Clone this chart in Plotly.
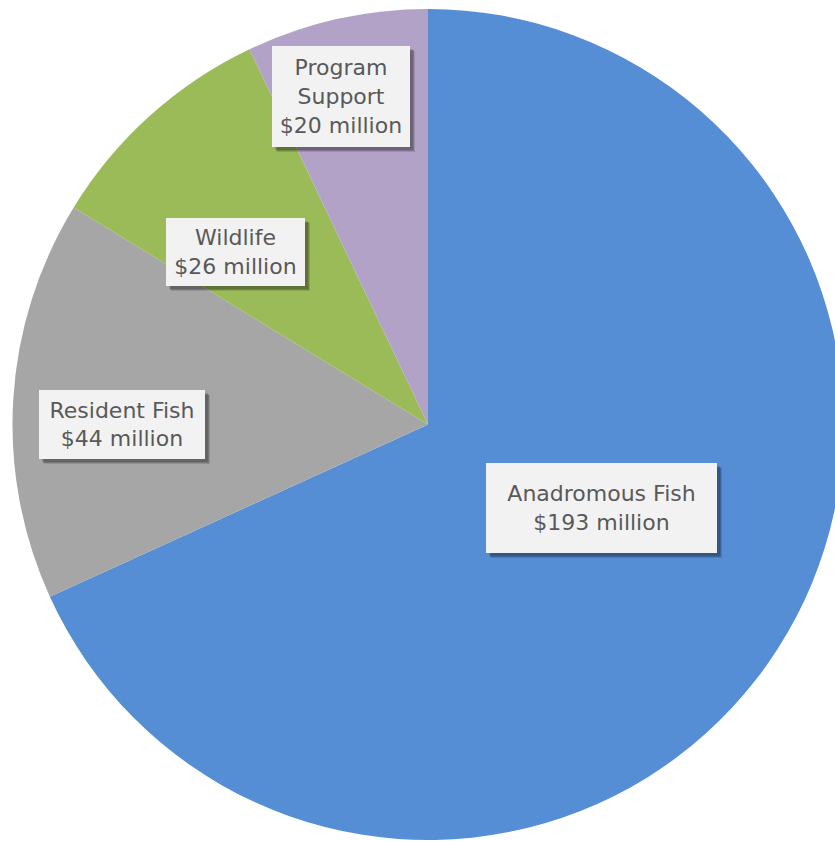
import plotly.graph_objects as go

categories = ["Anadromous Fish", "Resident Fish", "Wildlife", "Program Support"]
values = [193, 44, 26, 20]
label_lines = ["Anadromous Fish<br>$193 million", "Resident Fish<br>$44 million",
               "Wildlife<br>$26 million", "Program<br>Support<br>$20 million"]
colors = ["#558ED5", "#A6A6A6", "#9BBB59", "#B3A2C7"]

W, H = 856, 841
# label box centers (px) and sizes
boxes = [(601, 508, 231, 90), (122, 424, 166, 69), (235, 252, 139, 68), (341, 96, 138, 101)]

fig = go.Figure(go.Pie(
    labels=categories, values=values, sort=False, direction="clockwise", rotation=0,
    marker=dict(colors=colors, line=dict(width=0)),
    textinfo="none", hoverinfo="label+value", showlegend=False,
    domain=dict(x=[12.5 / W, 843.5 / W], y=[1 / H, 1 - 9 / H]),
))

FS = 22
font = dict(family="'DejaVu Sans', sans-serif", size=FS, color="#595959")
annos = []
# soft drop shadows (blank boxes)
for (cx, cy, bw, bh) in boxes:
    for sh, alpha in ((5, 0.12), (4, 0.18), (3, 0.15)):
        annos.append(dict(x=cx / W, y=1 - cy / H, xref="paper", yref="paper", text=" ",
                          xanchor="center", yanchor="middle",
                          showarrow=False, width=bw, height=bh, borderpad=0, borderwidth=0,
                          bgcolor=f"rgba(0,0,0,{alpha})", xshift=sh, yshift=-sh,
                          font=dict(size=4, color="rgba(0,0,0,0)")))
for (cx, cy, bw, bh), txt in zip(boxes, label_lines):
    annos.append(dict(x=cx / W, y=1 - cy / H, xref="paper", yref="paper", text=txt,
                      xanchor="center", yanchor="middle",
                      showarrow=False, width=bw, height=bh, borderpad=0, borderwidth=0,
                      bgcolor="#F2F2F2", font=font))

fig.update_layout(width=W, height=H, margin=dict(l=0, r=0, t=0, b=0),
                  paper_bgcolor="white", plot_bgcolor="white", annotations=annos)

fig.write_html("out.html", config={"displayModeBar": False},
               post_script="document.body.style.margin='0';document.body.style.overflow='hidden';")
